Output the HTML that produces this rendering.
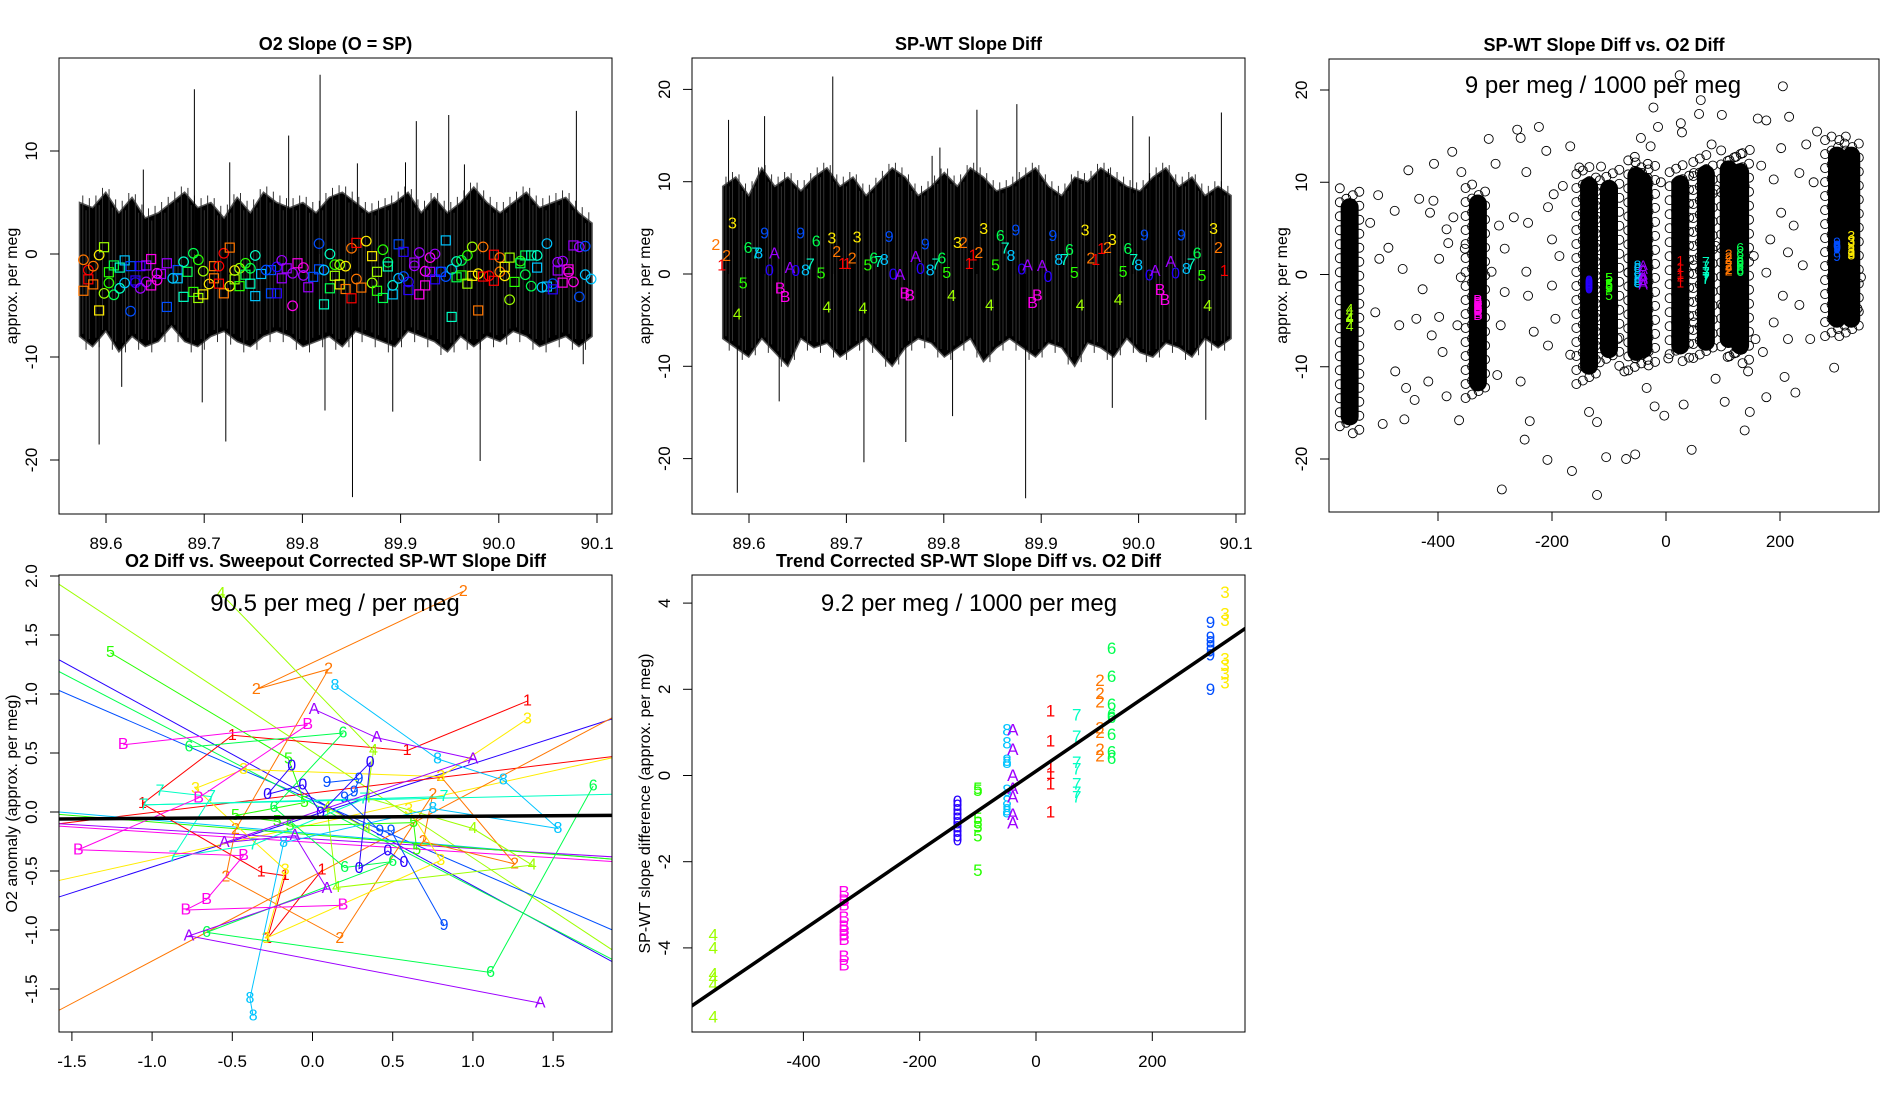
<!DOCTYPE html>
<html><head><meta charset="utf-8"><title>O2 slope diagnostics</title>
<style>
html,body{margin:0;padding:0;background:#fff;}
svg{display:block;font-family:"Liberation Sans",Arial,sans-serif;}
</style></head>
<body>
<svg id="chart" width="1900" height="1100" viewBox="0 0 1900 1100" xmlns="http://www.w3.org/2000/svg">
<rect x="0" y="0" width="1900" height="1100" fill="#fff"/>
</svg>
<script>
// ---------- shared palette (rainbow(13)) ----------
const keyChars = '1234567890AB';
const keyCols = ['#FF0000','#FF7600','#FFEC00','#9DFF00','#27FF00','#00FF4E','#00FFC4','#00C4FF','#004EFF','#2700FF','#9D00FF','#FF00EC'];

// ---------- panel 1: O2 slope ----------
const p1Upper = [5,4.5,6,4,5.5,3.5,4,5,6,4.5,5,3.5,5.5,4,6,5,4.5,5,4,5.5,6,5,4,4.5,5,6,4,5.5,4,5,6.5,5,4,5,6,4.5,5,5.5,4,3];
const p1Lower = [-8,-9,-7.5,-9.5,-8,-9,-8.5,-7,-8.5,-9,-8,-7.5,-8.5,-9,-8,-7.5,-8,-9,-8.5,-8,-9,-7.5,-8,-8.5,-9,-7.5,-8,-8.5,-9.5,-8,-9,-8,-8.5,-7.5,-8,-9,-8.5,-8,-9,-8];
const p1SpikeX = [89.690,89.818,89.786,89.949,89.916,90.079,89.905,89.726,89.638,89.856,89.965,89.593,89.698,89.722,89.851,89.981,89.892,89.823,89.616,90.086];
const p1SpikeY = [16.0,17.4,11.5,13.5,12.9,13.9,8.9,8.9,8.2,8.8,8.7,-18.5,-14.4,-18.2,-23.6,-20.1,-15.3,-15.2,-12.9,-10.7];
const m1x = [89.577,89.577,89.582,89.582,89.587,89.587,89.593,89.593,89.598,89.598,89.603,89.603,89.608,89.608,89.614,89.614,89.619,89.619,89.625,89.625,89.630,89.630,89.635,89.635,89.641,89.641,89.646,89.646,89.652,89.652,89.656,89.662,89.662,89.668,89.673,89.673,89.679,89.679,89.683,89.689,89.689,89.694,89.694,89.699,89.699,89.705,89.710,89.710,89.715,89.715,89.720,89.720,89.726,89.726,89.731,89.731,89.736,89.736,89.742,89.742,89.747,89.747,89.752,89.752,89.758,89.763,89.768,89.768,89.774,89.774,89.779,89.779,89.784,89.790,89.790,89.795,89.801,89.801,89.806,89.811,89.817,89.817,89.822,89.822,89.828,89.828,89.833,89.833,89.838,89.838,89.844,89.844,89.850,89.850,89.855,89.855,89.860,89.865,89.871,89.871,89.876,89.876,89.882,89.882,89.887,89.887,89.892,89.892,89.898,89.898,89.903,89.903,89.908,89.908,89.914,89.914,89.919,89.919,89.925,89.925,89.930,89.930,89.935,89.935,89.941,89.941,89.946,89.946,89.952,89.952,89.957,89.957,89.962,89.962,89.968,89.968,89.973,89.973,89.979,89.979,89.984,89.984,89.990,89.995,89.995,90.001,90.001,90.006,90.006,90.011,90.011,90.016,90.022,90.022,90.027,90.027,90.033,90.033,90.039,90.039,90.044,90.049,90.049,90.055,90.055,90.060,90.060,90.065,90.065,90.071,90.071,90.076,90.076,90.082,90.082,90.088,90.088,90.094];
const m1y = [-0.56,-3.57,-1.56,-2.46,-1.18,-2.95,-0.1,-5.48,0.66,-3.82,-2.81,-1.77,-1.11,-3.96,-1.32,-3.33,-0.62,-2.81,-1.18,-5.55,-2.57,-2.78,-1.18,-3.33,-1.11,-2.71,-3.05,-0.49,-1.87,-2.53,-1.94,-0.9,-5.14,-2.36,-1.56,-2.36,-0.76,-4.16,-1.73,0.07,-3.68,-0.56,-4.27,-1.67,-3.92,-2.91,-1.18,-2.36,-1.18,-2.88,0.07,-3.82,0.62,-3.12,-1.6,-2.46,-1.39,-3.12,-0.9,-2.01,-1.39,-2.88,-0.14,-4.09,-1.94,-1.56,-1.56,-3.82,-1.25,-3.82,-0.62,-2.36,-1.39,-1.87,-5.03,-0.9,-1.32,-2.08,-3.23,-2.22,1.01,-1.49,-1.56,-4.89,0,-3.33,-1.04,-2.12,-1.04,-2.95,-1.18,-3.4,0.56,-4.3,1.08,-2.43,-3.26,1.25,-0.21,-2.81,-1.73,-3.57,0.42,-4.27,-0.8,-1.21,-3.05,-3.92,-2.36,0.94,-2.19,0.21,-2.71,-3.5,-1.15,-0.83,0.14,-3.92,-1.67,-3.05,-0.35,-1.73,0,-2.46,-1.73,-1.73,-2.19,1.32,-1.49,-6.11,-0.73,-2.26,-0.62,-2.08,-0.14,-2.88,0.69,-2.12,-1.91,-5.48,0.69,-2.19,-2.12,-0.07,-2.6,-0.35,-1.73,-1.25,-2.12,-0.35,-4.44,-2.71,-0.69,-0.9,-2.01,-0.14,-3.12,-0.14,-0.14,-1.32,-3.23,1.01,-3.16,-2.88,-3.43,-0.8,-1.6,-0.69,-2.78,-1.73,-1.49,-2.71,0.83,0.69,-4.16,0.76,-2.01,-2.43];
const m1s = 'osososossoossososososososossoosssossossosososossosossoososososossossosossoosoossososososososossososossososososososososososososososososososososossoosososososososoosososososos';
const m1c = '22112233445566778899000AAABBBBAA98987766554433221112233445566778899900AAAABBBAA99987765443322112233445566778899000AAABBBBAA009988776655443322111122334455666677888890AAABBBBAA9988877665544332211';

// ---------- panel 2: SP-WT slope diff ----------
const p2Upper = [9.5,10.5,8.5,11.5,9.5,10.5,9,10.5,11.5,9.5,10.5,8.5,10,11.5,10.5,8.5,9.5,11,9.5,11.5,10.5,9,9.5,10.5,11.5,9.5,8.5,10.5,10,11.5,10.5,9.5,9,10.5,11.5,9.5,10.5,8.5,9.5,8.5];
const p2Lower = [-7,-8,-9,-7,-8.5,-10,-7,-8,-7.5,-9,-8,-7,-8.5,-10,-8,-7,-7.5,-9,-8,-7,-9.5,-8,-7,-8,-9,-7.5,-8,-10,-7.5,-8,-9,-7,-8.5,-9,-7.5,-8,-9,-7,-8,-7];
const p2SpikeX = [89.686,89.579,89.616,89.788,89.796,89.834,89.875,89.994,90.085,90.011,89.969,89.588,89.884,89.718,89.761,89.809,90.069,89.973,89.631];
const p2SpikeY = [21.4,16.7,17.1,12.8,13.7,17.8,18.4,17.1,17.5,14.9,11.4,-23.7,-24.3,-20.4,-18.2,-15.4,-15.8,-14.5,-13.8];
const l2x = [89.583,89.566,89.577,89.572,89.594,89.588,89.599,89.607,89.610,89.616,89.626,89.621,89.632,89.637,89.642,89.648,89.653,89.658,89.663,89.669,89.674,89.680,89.685,89.690,89.696,89.701,89.706,89.711,89.717,89.722,89.728,89.733,89.739,89.744,89.748,89.755,89.760,89.765,89.771,89.776,89.781,89.786,89.792,89.798,89.803,89.808,89.814,89.820,89.826,89.830,89.836,89.841,89.847,89.853,89.858,89.863,89.869,89.874,89.880,89.886,89.891,89.896,89.901,89.907,89.912,89.918,89.924,89.929,89.934,89.940,89.945,89.951,89.956,89.962,89.968,89.973,89.979,89.984,89.989,89.995,90.000,90.006,90.011,90.017,90.022,90.027,90.033,90.038,90.044,90.049,90.054,90.060,90.065,90.071,90.077,90.082,90.088];
const l2y = [5.4,3.07,1.88,0.87,-1.08,-4.44,2.78,2.17,2.17,4.33,2.17,0.33,-1.62,-2.53,0.61,0.25,4.33,0.33,0.97,3.47,0,-3.68,3.79,2.31,1.05,1.05,1.62,3.9,-3.79,0.87,1.62,1.23,1.44,3.97,-0.11,-0.18,-2.17,-2.38,1.77,0.51,3.14,0.33,0.97,1.62,0.07,-2.46,3.32,3.32,1.05,1.95,2.24,4.84,-3.47,0.87,4.04,2.71,1.88,4.66,0.43,0.87,-3.18,-2.38,0.79,-0.36,4.04,1.44,1.44,2.53,0.07,-3.47,4.66,1.62,1.44,2.67,2.78,3.61,-2.89,0.18,2.67,1.44,0.87,4.12,-0.22,0.25,-1.81,-2.89,1.23,0,4.12,0.51,0.97,2.17,-0.29,-3.54,4.84,2.78,0.25];
const l2c = '3221546789A0BBA09876543211234567890ABBA09876543211234567890ABBA09876543211234567890ABBA0987654321';

// ---------- panel 3: scatter ----------
const clChar = '4B058A172693';
const clX = [-555,-330,-135,-100,-52,-40,25,70,110,130,300,325];
const clTop = [8.7,9.1,11,10.7,12.1,11.5,11.2,12.3,12.8,12.5,14.3,14.3];
const clBot = [-16.8,-13.1,-11.3,-9.5,-9.8,-9.5,-9.1,-8.7,-8.4,-9.1,-6.2,-6.2];
const s3x = [24,205,-22,61,58,98,216,161,176,26,-14,28,-27,-44,80,147,202,246,265,-261,-223,-255,-311,-375,-407,-452,-359,-299,-245,-210,-168,-152,-114,-505,-519,-476,-433,-408,-414,-373,-385,-462,-427,-503,-487,-398,-382,-353,-360,-267,-293,-242,-200,-197,-181,-207,-283,-306,-245,-187,-200,-242,-283,-290,-232,-194,-207,-168,-510,-468,-438,-398,-366,-411,-392,-475,-456,-417,-497,-459,-441,-385,-363,-296,-255,-239,-248,-208,-165,-135,-121,-288,-121,-105,-70,-54,-20,-3,31,45,103,138,147,176,227,208,295,167,189,234,259,202,224,183,214,240,176,205,234,189,214,253,336,342,23,49,87,100,49,4,-34,-73,-85,-92,-66,-98,-9,49,87,157,154,138,144,87,170];
const s3y = [21.6,20.4,18.1,18.9,17.4,17.3,17.1,16.9,16.7,16.4,16.0,15.4,13.9,14.8,14.1,13.5,13.7,14.1,15.5,15.7,16.0,14.8,14.7,13.3,12.0,11.3,11.1,12.0,11.1,13.4,13.9,11.6,11.7,8.6,5.6,6.9,8.2,8.0,6.7,6.2,4.9,0.6,-1.6,1.7,2.9,1.7,3.4,2.8,-0.3,6.2,5.3,5.6,3.8,8.7,9.6,7.3,2.8,0.3,0.3,2.0,-1.2,-2.3,-1.9,-5.5,-6.2,-4.8,-7.7,-8.7,-4.1,-5.5,-4.8,-4.6,-5.5,-6.6,-8.4,-10.5,-12.3,-11.6,-16.2,-15.7,-13.6,-13.2,-15.8,-10.9,-11.6,-15.9,-17.9,-20.1,-21.3,-14.9,-16.0,-23.3,-23.9,-19.8,-20.0,-19.5,-14.3,-15.3,-14.1,-19.0,-13.8,-16.9,-14.9,-13.3,-12.8,-11.1,-10.1,11.8,10.3,11.0,10.0,6.7,5.3,3.8,2.4,1.0,0.2,-2.3,-3.3,-5.2,-7.0,-7.0,-3.7,-0.3,8.5,1.0,3.1,-3.4,-5.2,-9.1,-12.3,-10.5,-7.0,-3.4,0.2,3.1,10.0,11.0,9.2,-7.0,2.0,9.6,-10.5,-11.3,-8.4];

// ---------- panel 4: O2 diff vs corrected slope diff ----------
const p4Chars = '1234567890AB';
const p4X = [
 [1.34,0.59,-0.50,-1.06,-0.32,-0.17,-0.28,0.06],
 [0.94,-0.35,0.10,-0.48,-0.54,0.17,0.75,0.69,1.26,0.80],
 [1.34,0.80,-0.43,-0.73,-0.17,-0.29,0.80,0.60],
 [-0.57,0.38,0.34,1.0,1.37,0.15,0.09,0.34],
 [-1.26,-0.15,-0.05,-0.48,-0.22,-0.14,0.63,0.65],
 [-0.77,0.19,-0.24,0.20,0.50,-0.66,1.11,1.75],
 [-0.95,-0.63,-0.87,-0.37,0.32,0.82,-1.05],
 [0.14,0.78,1.19,1.53,0.75,-0.18,-0.39,-0.37],
 [0.09,0.29,0.26,0.20,0.42,0.49,0.82],
 [-0.13,-0.28,-0.06,0.05,0.36,0.29,0.47,0.57],
 [0.01,0.40,1.0,-0.55,-0.11,0.09,-0.77,1.42],
 [-1.18,-0.03,-0.71,-1.46,-0.43,-0.66,-0.79,0.19]];
const p4Y = [
 [0.94,0.52,0.65,0.07,-0.51,-0.54,-1.07,-0.49],
 [1.87,1.04,1.21,-0.15,-0.55,-1.07,0.15,-0.25,-0.44,0.30],
 [0.79,0.30,0.36,0.20,-0.49,-1.07,-0.41,0.02],
 [1.85,0.52,0.12,-0.14,-0.45,-0.64,0.04,-0.14],
 [1.35,0.45,0.08,-0.03,-0.08,-0.12,-0.09,-0.32],
 [0.55,0.67,0.04,-0.47,-0.42,-1.02,-1.36,0.22],
 [0.18,0.13,-0.38,-0.28,0.11,0.13,0.06],
 [1.07,0.45,0.27,-0.14,0.03,-0.26,-1.58,-1.73],
 [0.25,0.28,0.17,0.12,-0.16,-0.16,-0.96],
 [0.39,0.15,0.23,-0.01,0.42,-0.48,-0.33,-0.43],
 [0.87,0.63,0.45,-0.26,-0.20,-0.65,-1.05,-1.62],
 [0.57,0.74,0.12,-0.32,-0.37,-0.74,-0.83,-0.79]];
const extC = '4900132876AB5';
const extX0 = [-1.58,-1.58,-1.58,-1.58,-1.58,-1.58,-1.58,-1.58,-1.05,-1.58,-1.58,-1.58,-1.58];
const extY0 = [1.93,1.03,1.29,-0.72,-0.10,-0.58,-1.68,0.00,0.06,1.19,-0.10,-0.12,-0.02];
const extX1 = [1.87,1.87,1.87,1.87,1.87,1.87,1.87,1.87,1.87,1.87,1.87,1.87,1.87];
const extY1 = [-1.17,-1.00,-1.27,0.79,0.47,0.46,0.80,-0.40,0.15,-1.25,-0.38,-0.42,-0.40];
const p4Fit = [-0.045, 0.009]; // intercept, slope

// ---------- panel 5: trend corrected ----------
const g5Char = '4B05817A2693';
const g5X = [-555,-330,-135,-100,-50,25,70,-40,110,130,300,325];
const g5Vals = [
 [-3.7,-4.0,-4.6,-4.7,-4.85,-5.6],
 [-2.7,-2.9,-3.0,-3.3,-3.5,-3.6,-3.7,-3.8,-4.2,-4.4],
 [-0.6,-0.7,-0.8,-0.9,-1.0,-1.1,-1.2,-1.3,-1.4,-1.5],
 [-0.3,-0.35,-1.0,-1.1,-1.2,-1.4,-2.2],
 [1.05,0.75,0.35,0.3,-0.35,-0.6,-0.8,-0.85],
 [1.5,0.8,0.2,0.05,-0.2,-0.85],
 [1.4,0.9,0.3,0.15,-0.2,-0.4,-0.5],
 [1.05,0.6,0,-0.3,-0.5,-0.9,-1.1],
 [2.2,1.9,1.7,1.1,1.0,0.6,0.45],
 [2.95,2.3,1.65,1.4,1.35,0.95,0.55,0.4],
 [3.55,3.2,3.1,3.0,2.9,2.8,2.0],
 [4.25,3.75,3.6,2.7,2.55,2.35,2.15]];
const p5Fit = [0.1, 0.0092];

// ---------- tick arrays ----------
const p1XTicks = [89.6,89.7,89.8,89.9,90.0,90.1];
const p1YTicks = [-20,-10,0,10];
const p2YTicks = [-20,-10,0,10,20];
const p3XTicks = [-400,-200,0,200];
const p4XTicks = [-1.5,-1.0,-0.5,0.0,0.5,1.0,1.5];
const p4YTicks = [-1.5,-1.0,-0.5,0.0,0.5,1.0,1.5,2.0];
const p5YTicks = [-4,-2,0,2,4];

// ---------- helpers ----------
const NS = 'http://www.w3.org/2000/svg';
const svg = document.getElementById('chart');
function mk(tag, attrs, parent){
  const e = document.createElementNS(NS, tag);
  for (const k in attrs) e.setAttribute(k, attrs[k]);
  (parent || svg).appendChild(e);
  return e;
}
function colOf(ch){ return keyCols[keyChars.indexOf(ch)]; }
function lin(d0,d1,r0,r1){ return v => r0 + (v-d0)*(r1-r0)/(d1-d0); }

function makePanel(id, box, sx, sy){
  const g = mk('g', {});
  
  
  const cp = mk('clipPath', {id: id+'-clip'}, g);
  mk('rect', {x:box[0], y:box[1], width:box[2]-box[0], height:box[3]-box[1]}, cp);
  const plot = mk('g', {'clip-path':'url(#'+id+'-clip)'}, g);
  
  
  return {g, plot, box, sx, sy};
}
function finishPanel(P, id, title, ylab, xt, xfmt, yt, yfmt){
  const b = P.box;
  const frame = mk('rect', {x:b[0], y:b[1], width:b[2]-b[0], height:b[3]-b[1], fill:'none', stroke:'#000', 'stroke-width':1}, P.g);
  
  
  const xa = mk('g', {}, P.g);
  
  
  const xs = xt.map(P.sx);
  mk('line', {x1:xs[0], x2:xs[xs.length-1], y1:b[3], y2:b[3], stroke:'#000'}, xa);
  xt.forEach((v,i)=>{
    mk('line', {x1:xs[i], x2:xs[i], y1:b[3], y2:b[3]+9, stroke:'#000'}, xa);
    const t = mk('text', {x:xs[i], y:b[3]+35, 'text-anchor':'middle', 'font-size':17}, xa);
    t.textContent = xfmt(v);
    
    
  });
  const ya = mk('g', {}, P.g);
  
  
  const ys = yt.map(P.sy);
  mk('line', {x1:b[0], x2:b[0], y1:ys[0], y2:ys[ys.length-1], stroke:'#000'}, ya);
  yt.forEach((v,i)=>{
    mk('line', {x1:b[0], x2:b[0]-9, y1:ys[i], y2:ys[i], stroke:'#000'}, ya);
    const cx = b[0]-22;
    const t = mk('text', {x:cx, y:ys[i], 'text-anchor':'middle', 'font-size':17, transform:'rotate(-90 '+cx+' '+ys[i]+')'}, ya);
    t.textContent = yfmt(v);
    
    
  });
  const lx = b[0]-42, ly = (b[1]+b[3])/2;
  const yl = mk('text', {x:lx, y:ly, 'text-anchor':'middle', 'font-size':16, transform:'rotate(-90 '+lx+' '+ly+')'}, P.g);
  yl.textContent = ylab;
  
  
  const tt = mk('text', {x:(b[0]+b[2])/2, y:b[1]-8, 'text-anchor':'middle', 'font-size':18, 'font-weight':'bold'}, P.g);
  tt.textContent = title;
  
  
}
function drawBand(P, upper, lower, x0, x1, name){
  const n = upper.length, pts = [];
  for (let i=0;i<n;i++){ const x = x0 + i*(x1-x0)/(n-1); pts.push(P.sx(x)+','+P.sy(upper[i])); }
  for (let i=n-1;i>=0;i--){ const x = x0 + i*(x1-x0)/(n-1); pts.push(P.sx(x)+','+P.sy(lower[i])); }
  const poly = mk('polygon', {points:pts.join(' '), fill:'#000', stroke:'#555', 'stroke-width':1.5, 'stroke-linejoin':'miter'}, P.plot);
  
  
  for (let i=0;i<n-1;i++){
    for (let k=1;k<4;k++){
      const f = k/4, x = x0 + (i+f)*(x1-x0)/(n-1);
      const u = upper[i] + (upper[i+1]-upper[i])*f, l = lower[i] + (lower[i+1]-lower[i])*f;
      mk('line', {x1:P.sx(x), x2:P.sx(x), y1:P.sy(u+(k%2?0.8:-0.5)), y2:P.sy(l-(k%2?-0.5:0.8)), stroke:'#333', 'stroke-width':1}, P.plot);
    }
  }
}
function drawSpikes(P, xs, ys, name){
  xs.forEach((x,i)=>{
    const s = mk('line', {x1:P.sx(x), x2:P.sx(x), y1:P.sy(0), y2:P.sy(ys[i]), stroke:'#000', 'stroke-width':1}, P.plot);
    
    
  });
}
const f1 = v => v.toFixed(1);
const f0 = v => String(v);

// ================= PANEL 1 =================
const P1 = makePanel('o2-slope', [59,58,612,514], lin(89.6,90.1,106,597), lin(0,10,254,151));
drawBand(P1, p1Upper, p1Lower, 89.573, 90.095, 'o2-slope-series-band');
drawSpikes(P1, p1SpikeX, p1SpikeY, 'o2-slope-spike');
m1x.forEach((x,i)=>{
  const cx = P1.sx(x), cy = P1.sy(m1y[i]), c = colOf(m1c[i]);
  let m;
  if (m1s[i] === 's') m = mk('rect', {x:cx-4.5, y:cy-4.5, width:9, height:9, fill:'none', stroke:c, 'stroke-width':1.2}, P1.plot);
  else m = mk('circle', {cx:cx, cy:cy, r:4.8, fill:'none', stroke:c, 'stroke-width':1.2}, P1.plot);
  
  
});
finishPanel(P1, 'o2-slope', 'O2 Slope (O = SP)', 'approx. per meg', p1XTicks, f1, p1YTicks, f0);

// ================= PANEL 2 =================
const P2 = makePanel('spwt-diff', [692,58,1245,514], lin(89.6,90.1,749,1236), lin(0,10,274,181.7));
drawBand(P2, p2Upper, p2Lower, 89.573, 90.095, 'spwt-diff-series-band');
drawSpikes(P2, p2SpikeX, p2SpikeY, 'spwt-diff-spike');
l2x.forEach((x,i)=>{
  const t = mk('text', {x:P2.sx(x), y:P2.sy(l2y[i]), 'text-anchor':'middle', 'dominant-baseline':'central', 'font-size':16, fill:colOf(l2c[i])}, P2.plot);
  t.textContent = l2c[i];
  
  
});
finishPanel(P2, 'spwt-diff', 'SP-WT Slope Diff', 'approx. per meg', p1XTicks, f1, p2YTicks, f0);

// ================= PANEL 3 =================
const P3 = makePanel('diff-vs-o2', [1329,59,1879,512], lin(0,200,1666,1780), lin(0,10,274.5,182.25));
s3x.forEach((x,i)=>{
  const c = mk('circle', {cx:P3.sx(x), cy:P3.sy(s3y[i]), r:4.5, fill:'none', stroke:'#000', 'stroke-width':0.9}, P3.plot);
  
  
});
clX.forEach((x,i)=>{
  const cg = mk('g', {}, P3.plot);
  
  
  const cx = P3.sx(x), yt = P3.sy(clTop[i]), yb = P3.sy(clBot[i]);
  for (let y=yt-6; y<=yb+6; y+=3.5){
    const off = ((y*13)%26) - 13;
    mk('circle', {cx:cx+off, cy:y, r:4.5, fill:'none', stroke:'#000', 'stroke-width':0.9}, cg);
  }
  mk('rect', {x:cx-9, y:yt+4, width:18, height:Math.max(0,yb-yt-8), rx:9, fill:'#000'}, cg);
});
g5X.forEach((x,i)=>{
  g5Vals[i].forEach(v=>{
    const t = mk('text', {x:P3.sx(x), y:P3.sy(v), 'text-anchor':'middle', 'dominant-baseline':'central', 'font-size':14, fill:colOf(g5Char[i])}, P3.plot);
    t.textContent = g5Char[i];
    
    
  });
});
const st3 = mk('text', {x:1603, y:93, 'text-anchor':'middle', 'font-size':24}, P3.g);
st3.textContent = '9 per meg / 1000 per meg';


finishPanel(P3, 'diff-vs-o2', 'SP-WT Slope Diff vs. O2 Diff', 'approx. per meg', p3XTicks, f0, p2YTicks, f0);

// ================= PANEL 4 =================
const P4 = makePanel('o2-vs-corrected', [59,575,612,1032], lin(0,1,312.5,472.9), lin(0,1,812,694));
extC.split('').forEach((ch,i)=>{
  const l = mk('line', {x1:P4.sx(extX0[i]), y1:P4.sy(extY0[i]), x2:P4.sx(extX1[i]), y2:P4.sy(extY1[i]), stroke:colOf(ch), 'stroke-width':1}, P4.plot);
  
  
});
p4Chars.split('').forEach((ch,gi)=>{
  const pts = p4X[gi].map((x,j)=>P4.sx(x)+','+P4.sy(p4Y[gi][j])).join(' ');
  const pl = mk('polyline', {points:pts, fill:'none', stroke:colOf(ch), 'stroke-width':1}, P4.plot);
  
  
  p4X[gi].forEach((x,j)=>{
    const t = mk('text', {x:P4.sx(x), y:P4.sy(p4Y[gi][j]), 'text-anchor':'middle', 'dominant-baseline':'central', 'font-size':16, fill:colOf(ch)}, P4.plot);
    t.textContent = ch;
    
    
  });
});
const fit4 = mk('line', {x1:P4.sx(-1.6), y1:P4.sy(p4Fit[0]+p4Fit[1]*-1.6), x2:P4.sx(1.9), y2:P4.sy(p4Fit[0]+p4Fit[1]*1.9), stroke:'#000', 'stroke-width':3.5}, P4.plot);


const st4 = mk('text', {x:335, y:611, 'text-anchor':'middle', 'font-size':24}, P4.g);
st4.textContent = '90.5 per meg / per meg';


finishPanel(P4, 'o2-vs-corrected', 'O2 Diff vs. Sweepout Corrected SP-WT Slope Diff', 'O2 anomaly (approx. per meg)', p4XTicks, f1, p4YTicks, f1);

// ================= PANEL 5 =================
const P5 = makePanel('trend-corrected', [692,575,1245,1032], lin(0,200,1036,1152.3), lin(0,1,775.5,732.4));
g5X.forEach((x,i)=>{
  g5Vals[i].forEach(v=>{
    const t = mk('text', {x:P5.sx(x), y:P5.sy(v), 'text-anchor':'middle', 'dominant-baseline':'central', 'font-size':17, fill:colOf(g5Char[i])}, P5.plot);
    t.textContent = g5Char[i];
    
    
  });
});
const fit5 = mk('line', {x1:P5.sx(-600), y1:P5.sy(p5Fit[0]+p5Fit[1]*-600), x2:P5.sx(370), y2:P5.sy(p5Fit[0]+p5Fit[1]*370), stroke:'#000', 'stroke-width':3.5}, P5.plot);


const st5 = mk('text', {x:969, y:611, 'text-anchor':'middle', 'font-size':24}, P5.g);
st5.textContent = '9.2 per meg / 1000 per meg';


finishPanel(P5, 'trend-corrected', 'Trend Corrected SP-WT Slope Diff vs. O2 Diff', 'SP-WT slope difference (approx. per meg)', p3XTicks, f0, p5YTicks, f0);
</script>
</body></html>
